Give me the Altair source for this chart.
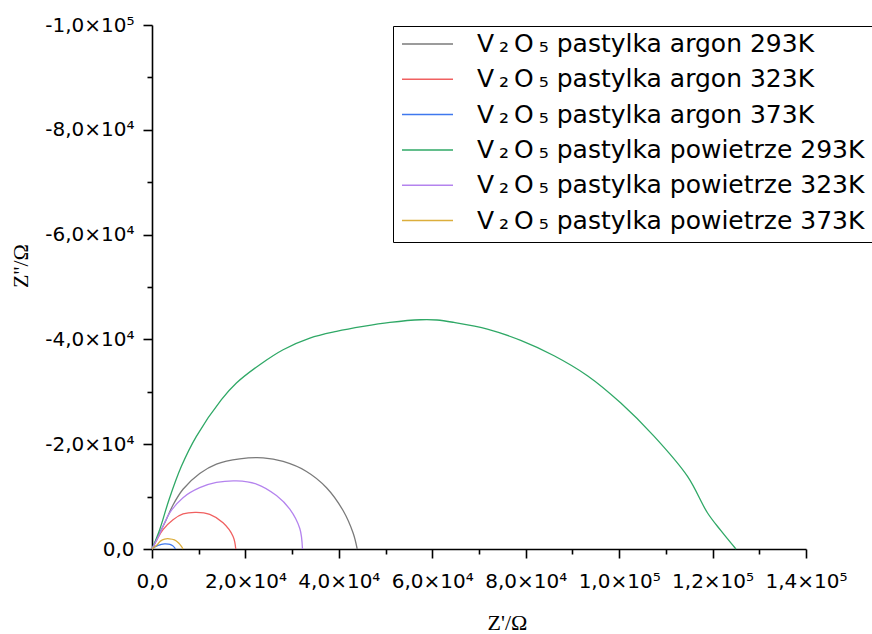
import altair as alt
import pandas as pd

# ---- data ----
series_names = [
    "V\u2009₂\u2009O\u2009₅ pastylka argon 293K",
    "V\u2009₂\u2009O\u2009₅ pastylka argon 323K",
    "V\u2009₂\u2009O\u2009₅ pastylka argon 373K",
    "V\u2009₂\u2009O\u2009₅ pastylka powietrze 293K",
    "V\u2009₂\u2009O\u2009₅ pastylka powietrze 323K",
    "V\u2009₂\u2009O\u2009₅ pastylka powietrze 373K",
]
series_colors = ["#7a7a7a", "#f06060", "#3f78ee", "#2fa866", "#b483ee", "#dcae3c"]

argon_293_x = [0, 1500, 3000, 4500, 6640, 10210, 13790, 18790, 23790, 28070, 33070, 37360, 40930, 43070, 43930]
argon_293_y = [0, -2800, -5500, -8400, -11400, -14400, -16200, -17200, -17400, -16700, -14800, -11700, -7300, -3000, 0]

argon_323_x = [0, 1200, 2360, 4500, 6640, 9500, 12360, 15210, 17360, 17930]
argon_323_y = [0, -2000, -3700, -5600, -6700, -7000, -6600, -5000, -2400, 0]

argon_373_x = [0, 700, 1300, 2000, 2700, 3500, 4100, 4600, 4900, 5000]
argon_373_y = [0, -450, -700, -900, -960, -930, -800, -500, -150, 0]

powietrze_293_x = [0, 1640, 3640, 6290, 9500, 14860, 18070, 23070, 28070, 33790, 39500, 45210,
                   50930, 57500, 61000, 64640, 71790, 78930, 86070, 93210, 100360, 107500,
                   114640, 118930, 121790, 125000]
powietrze_293_y = [0, -3690, -9410, -15770, -21500, -28490, -31670, -35170, -38030, -40250, -41530,
                   -42480, -43240, -43750, -43700, -43240, -41970, -39810, -36880, -33070, -27850,
                   -21490, -13860, -6870, -3500, 0]

powietrze_323_x = [0, 1500, 3790, 6640, 10210, 13790, 18070, 22360, 26640, 29500, 31640, 32210]
powietrze_323_y = [0, -2600, -6900, -9800, -11700, -12700, -13000, -12400, -10200, -7600, -3900, 0]

powietrze_373_x = [0, 1000, 1800, 2700, 3700, 4800, 5700, 6300, 6650]
powietrze_373_y = [0, -700, -1500, -1900, -1950, -1750, -1150, -500, 0]

x_ticks = list(range(0, 140001, 10000))
y_ticks = list(range(-100000, 1, 10000))

series_data = [
    (argon_293_x, argon_293_y),
    (argon_323_x, argon_323_y),
    (argon_373_x, argon_373_y),
    (powietrze_293_x, powietrze_293_y),
    (powietrze_323_x, powietrze_323_y),
    (powietrze_373_x, powietrze_373_y),
]

rows = []
for name, (xs, ys) in zip(series_names, series_data):
    for i, (xv, yv) in enumerate(zip(xs, ys)):
        rows.append({"series": name, "zre": xv, "zim": yv, "idx": i})
df = pd.DataFrame(rows)

label_expr = (
    "datum.value % 20000 != 0 ? '' : (datum.value == 0 ? '0,0' : "
    "(datum.value < 0 ? '-' : '') + "
    "replace(format(abs(datum.value) / pow(10, floor(log(abs(datum.value)) / LN10 + 1e-9)), '.1f'), '.', ',')"
    " + '×10' + (floor(log(abs(datum.value)) / LN10 + 1e-9) == 4 ? '⁴' : '⁵'))"
)
tick_size = {"condition": {"test": "datum.value % 20000 == 0", "value": 9}, "value": 5}

chart = (
    alt.Chart(df)
    .mark_line(strokeWidth=1.3, interpolate="catmull-rom")
    .encode(
        x=alt.X(
            "zre:Q",
            scale=alt.Scale(domain=[0, 140000], nice=False, zero=False),
            axis=alt.Axis(
                values=x_ticks,
                labelExpr=label_expr,
                tickSize=tick_size,
                labelOverlap=False,
                labelFlush=False,
                labelPadding=13,
                grid=False,
                title="Z'/Ω",
                titleX=355,
                titleY=80,
                titleAlign="center",
                titleBaseline="alphabetic",
            ),
        ),
        y=alt.Y(
            "zim:Q",
            scale=alt.Scale(domain=[-100000, 0], nice=False, zero=False, reverse=True),
            axis=alt.Axis(
                values=y_ticks,
                labelExpr=label_expr,
                tickSize=tick_size,
                labelOverlap=False,
                labelFlush=False,
                labelPadding=9,
                grid=False,
                title="Z''/Ω",
                titleX=-125,
                titleY=240.5,
                titleAngle=270,
                titleAlign="center",
                titleBaseline="alphabetic",
            ),
        ),
        color=alt.Color(
            "series:N",
            scale=alt.Scale(domain=series_names, range=series_colors),
            sort=series_names,
            legend=alt.Legend(
                title=None,
                orient="none",
                legendX=241,
                legendY=1,
                symbolType="stroke",
                symbolSize=2601,
                symbolStrokeWidth=1.5,
                clipHeight=20,
                rowPadding=10.3,
                padding=8,
                labelOffset=23,
                labelFont="DejaVu Sans",
                labelFontSize=25,
                labelColor="black",
                labelLimit=600,
                strokeColor="black",
            ),
        ),
        order="idx:Q",
    )
    .properties(
        width=654,
        height=524,
        autosize=alt.AutoSizeParams(type="none"),
        padding={"left": 152, "top": 25, "right": 66, "bottom": 85},
        background="white",
    )
    .configure_view(stroke=None)
    .configure_axis(
        domainColor="black",
        domainWidth=1.6,
        tickColor="black",
        tickWidth=1.6,
        labelFont="DejaVu Sans",
        labelFontSize=20,
        labelColor="black",
        titleFont="Liberation Serif",
        titleFontSize=22,
        titleFontWeight="normal",
        titleColor="black",
    )
)

chart.save("out.html", embed_options={"renderer": "svg", "actions": False})
